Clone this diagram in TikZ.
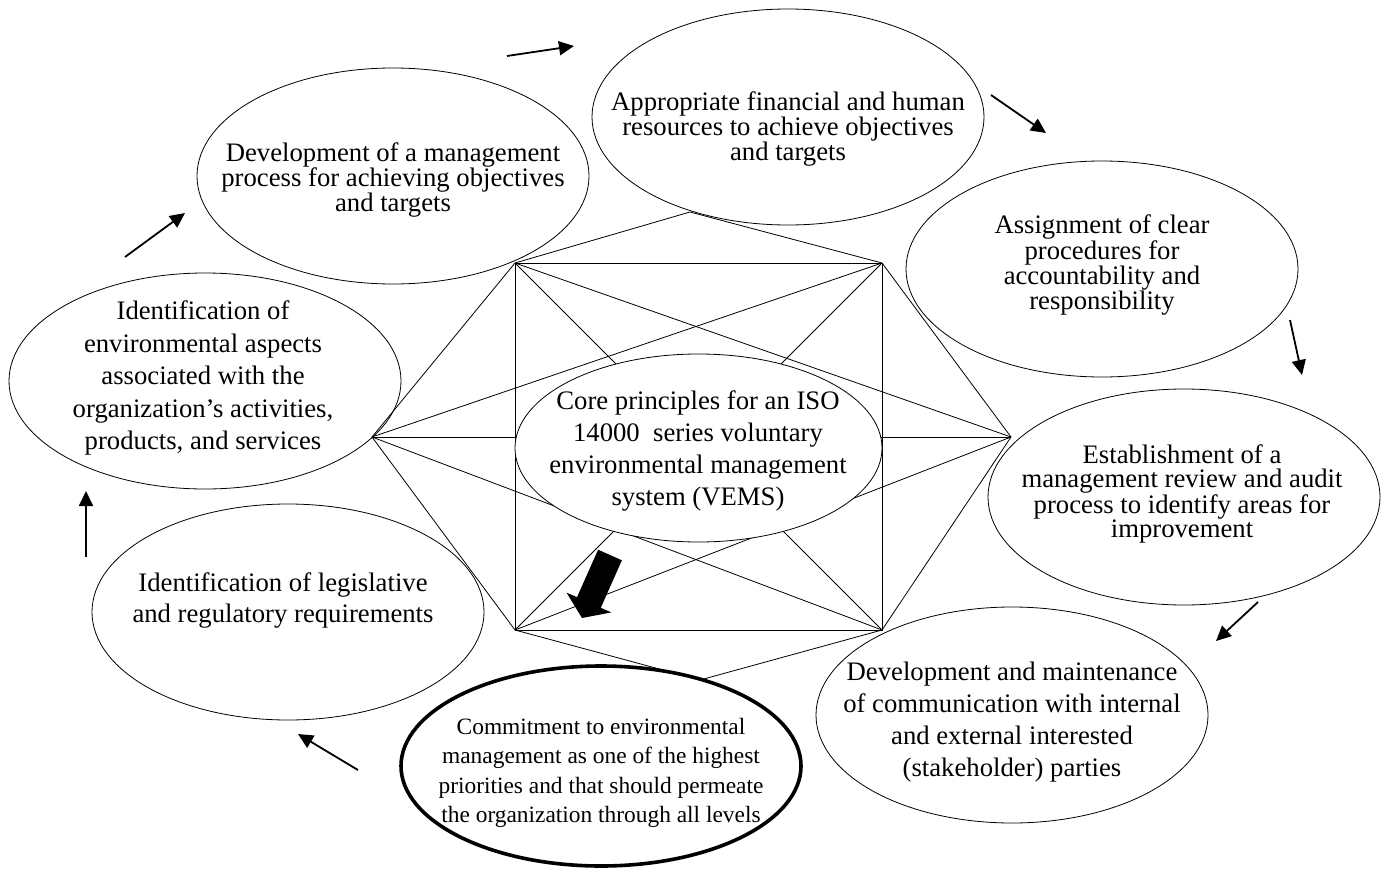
\documentclass[tikz,border=0pt]{standalone}
\usepackage{fontspec}
\setmainfont{Liberation Serif}
\usetikzlibrary{shapes.geometric,arrows.meta}

\tikzset{
  bubble/.style={ellipse, draw, line width=0.8pt, inner sep=0pt,
    minimum width=392pt, minimum height=216pt},
  heavybubble/.style={bubble, line width=3.6pt, minimum width=400pt, minimum height=200pt},
  corebubble/.style={ellipse, draw, fill=white, line width=0.8pt, inner sep=0pt,
    minimum width=367pt, minimum height=188pt},
  loose/.style={align=center, inner sep=0pt, font=\fontsize{26.7}{32}\selectfont},
  tight/.style={align=center, inner sep=0pt, font=\fontsize{26.7}{23.5}\selectfont},
  smalltext/.style={align=center, inner sep=0pt, font=\fontsize{23.4}{29.5}\selectfont},
  web/.style={line width=0.8pt},
  flow/.style={line width=1.8pt, -{Triangle[length=15pt,width=14pt]}},
}

\begin{document}
\begin{tikzpicture}[x=1pt, y=-1pt]
\useasboundingbox (0,0) rectangle (1386,888);

% corners of the central square and the outer points of the web
\coordinate (tl) at (515,263);
\coordinate (tr) at (882,263);
\coordinate (bl) at (515,630);
\coordinate (br) at (882,630);
\coordinate (lv) at (372,437);
\coordinate (rv) at (1011,437);
\coordinate (tv) at (690,212);
\coordinate (bv) at (700,680);

% web of lines joining the square and the outer points
\draw[web] (tl) -- (tr) -- (br) -- (bl) -- cycle;
\draw[web] (tl) -- (br) (tr) -- (bl);
\draw[web] (tl) -- (tv) -- (tr) -- (rv) -- (br) -- (bv) -- (bl) -- (lv) -- cycle;
\draw[web] (lv) -- (rv);
\draw[web] (lv) -- (tr) (lv) -- (br);
\draw[web] (rv) -- (tl) (rv) -- (bl);

% outer bubbles
\node[bubble] (app) at (788,117) {};
\node[tight] (appt) at (788,129) {Appropriate financial and human\\resources to achieve objectives\\and targets};

\node[bubble] (devp) at (393,176) {};
\node[tight] (devpt) at (393,180) {Development of a management\\process for achieving objectives\\and targets};

\node[bubble] (ident) at (205,381) {};
\node[loose, font=\fontsize{26.7}{32.5}\selectfont] (identt) at (203,378) {Identification of\\environmental aspects\\associated with the\\organization’s activities,\\products, and services};

\node[bubble] (legis) at (288,612) {};
\node[loose, font=\fontsize{26.7}{31}\selectfont] (legist) at (283,600) {Identification of legislative\\and regulatory requirements};

\node[heavybubble] (commit) at (601,766) {};
\node[smalltext] (committ) at (601,773) {Commitment to environmental\\management as one of the highest\\priorities and that should permeate\\the organization through all levels};

\node[bubble] (comm) at (1012,715) {};
\node[loose] (commt) at (1012,722) {Development and maintenance\\of communication with internal\\and external interested\\(stakeholder) parties};

\node[bubble] (estab) at (1184,497) {};
\node[tight, font=\fontsize{26.7}{24}\selectfont] (estabt) at (1182,494) {Establishment of a\\management review and audit\\process to identify areas for\\improvement};

\node[bubble] (assign) at (1102,269) {};
\node[tight] (assignt) at (1102,265) {Assignment of clear\\procedures for\\accountability and\\responsibility};

% central bubble over the web
\node[corebubble] (core) at (698.5,448) {};
\node[loose] (coret) at (698,451) {Core principles for an ISO\\14000\ \ series voluntary\\environmental management\\system (VEMS)};

% heavy arrow inside the square
\fill (598.1,549.7) -- (621.9,560.3) -- (600.8,607.8) -- (611.3,612.4)
  -- (582,618) -- (566.5,592.6) -- (577.0,597.2) -- cycle;

% small arrows running round the cycle
\coordinate (f1s) at (507,56);   \coordinate (f1e) at (574,46);
\coordinate (f2s) at (991,95);   \coordinate (f2e) at (1046,133);
\coordinate (f3s) at (1290,320); \coordinate (f3e) at (1302,375);
\coordinate (f4s) at (1258,602); \coordinate (f4e) at (1216,641);
\coordinate (f5s) at (358,770);  \coordinate (f5e) at (298,734);
\coordinate (f6s) at (86,557);   \coordinate (f6e) at (86,491);
\coordinate (f7s) at (125,257);  \coordinate (f7e) at (185,213);
\draw[flow] (f1s) -- (f1e);
\draw[flow] (f2s) -- (f2e);
\draw[flow] (f3s) -- (f3e);
\draw[flow] (f4s) -- (f4e);
\draw[flow] (f5s) -- (f5e);
\draw[flow] (f6s) -- (f6e);
\draw[flow] (f7s) -- (f7e);
\end{tikzpicture}
\end{document}
